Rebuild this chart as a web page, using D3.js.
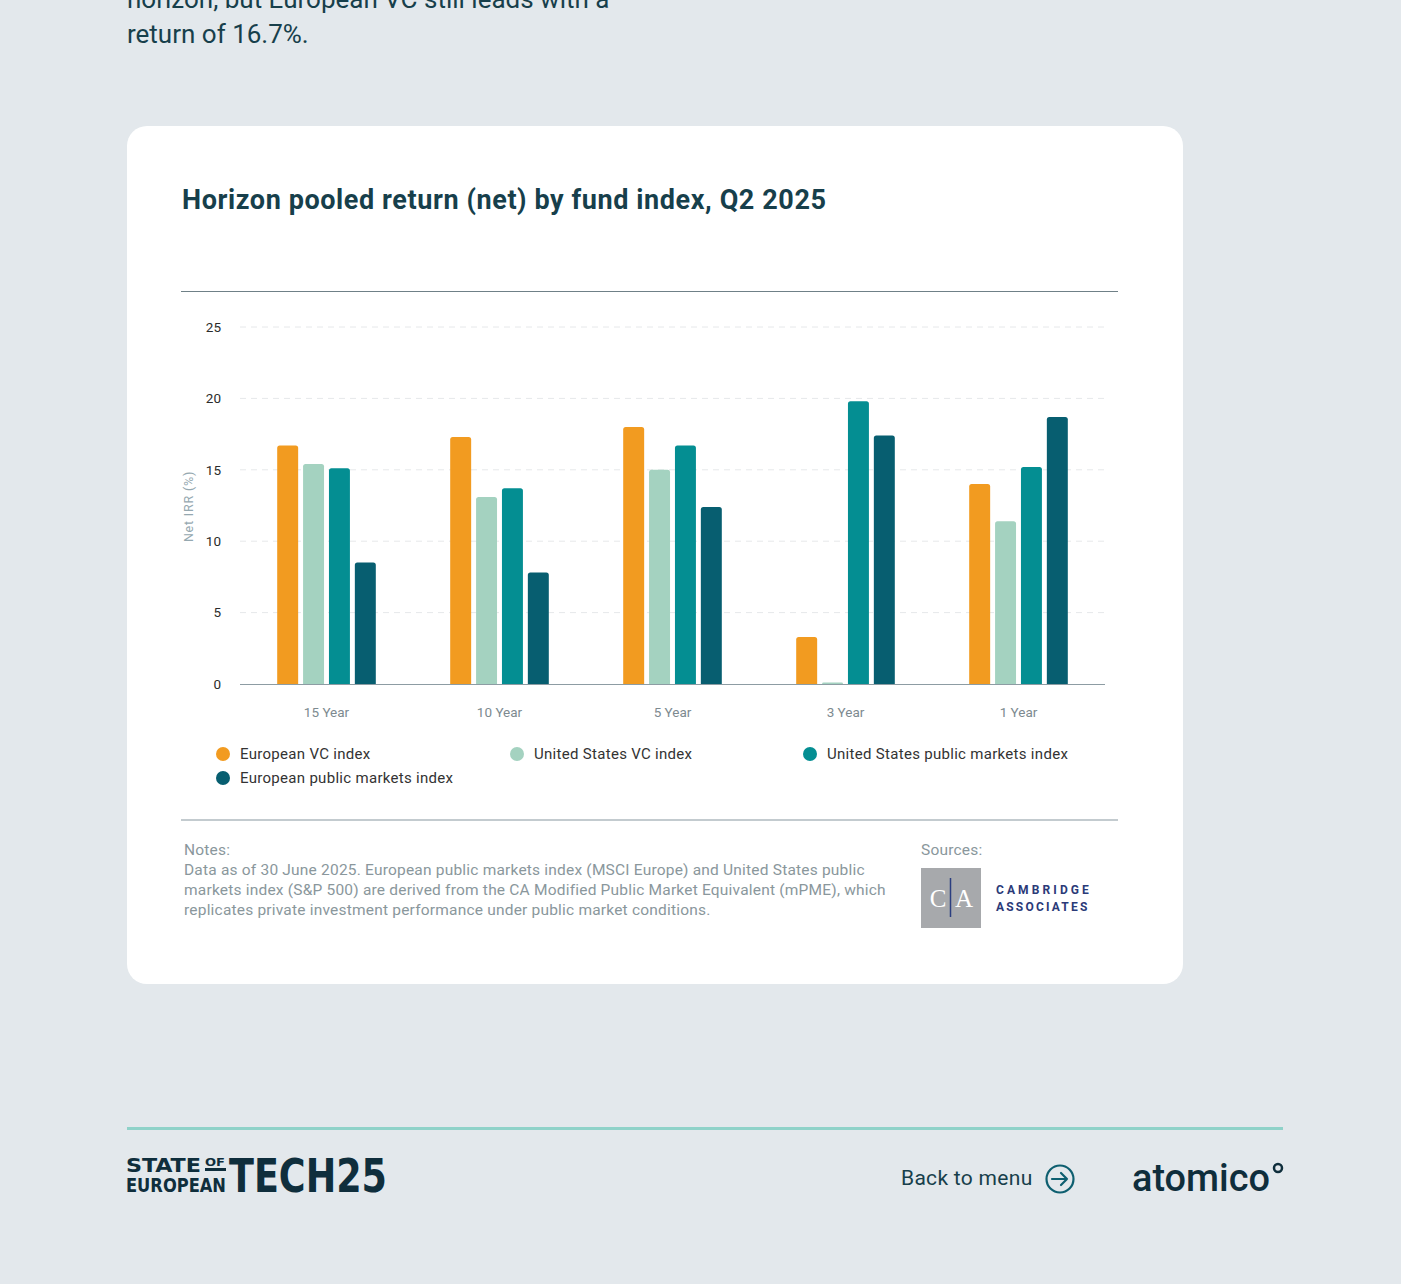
<!DOCTYPE html>
<html>
<head>
<meta charset="utf-8">
<script src="https://cdn.jsdelivr.net/npm/d3@7"></script>
<style>
  html, body { margin: 0; padding: 0; background: #e3e8ec; }
  svg { display: block; font-family: Roboto, "Noto Sans", sans-serif; }
</style>
</head>
<body>
<svg id="page" width="1401" height="1284"></svg>
<script>
// horizons on the x axis
const horizons = ['15 Year', '10 Year', '5 Year', '3 Year', '1 Year'];
// series names and colours
const seriesNames = ['European VC index', 'United States VC index', 'United States public markets index', 'European public markets index'];
const seriesColors = ['#f29b20', '#a4d2c0', '#048e92', '#075e70'];
// net IRR (%) per series, in horizon order
const europeanVC = [16.7, 17.3, 18.0, 3.3, 14.0];
const usVC = [15.4, 13.1, 15.0, 0.1, 11.4];
const usPublic = [15.1, 13.7, 16.7, 19.8, 15.2];
const europeanPublic = [8.5, 7.8, 12.4, 17.4, 18.7];
const yTicks = [0, 5, 10, 15, 20, 25];

const noteLines = [
  'Data as of 30 June 2025. European public markets index (MSCI Europe) and United States public',
  'markets index (S&P 500) are derived from the CA Modified Public Market Equivalent (mPME), which',
  'replicates private investment performance under public market conditions.'
];

const ink = '#173f4b';
const svg = d3.select('#page');

// intro text, cut by the top of the page
svg.append('text').attr('x', 127).attr('y', 8)
  .attr('font-size', 26).attr('fill', ink)
  .text('horizon, but European VC still leads with a');
svg.append('text').attr('x', 127).attr('y', 43)
  .attr('font-size', 26).attr('fill', ink)
  .text('return of 16.7%.');

// white card
svg.append('rect').attr('x', 127).attr('y', 126).attr('width', 1056).attr('height', 858)
  .attr('rx', 20).attr('fill', '#fff');

svg.append('text').attr('x', 182).attr('y', 209)
  .attr('font-size', 27).attr('font-weight', 700).attr('fill', ink)
  .attr('textLength', 644).attr('lengthAdjust', 'spacing')
  .text('Horizon pooled return (net) by fund index, Q2 2025');

svg.append('line').attr('x1', 181).attr('x2', 1118).attr('y1', 291.5).attr('y2', 291.5)
  .attr('stroke', '#6f8087').attr('stroke-width', 1);

// chart
const x0 = d3.scaleBand().domain(horizons).range([240, 1105]).paddingInner(0.43).paddingOuter(0.215);
const x1 = d3.scaleBand().domain(d3.range(seriesNames.length)).range([0, x0.bandwidth()]).paddingInner(0.19);
const y = d3.scaleLinear().domain([0, 25]).range([684, 327]);

const grid = svg.append('g');
grid.selectAll('line').data(yTicks.filter(d => d > 0)).join('line')
  .attr('x1', 240).attr('x2', 1105)
  .attr('y1', d => y(d)).attr('y2', d => y(d))
  .attr('stroke', '#e6e8ea').attr('stroke-dasharray', '6,5');

const yAxis = svg.append('g').attr('transform', 'translate(240,0)')
  .call(d3.axisLeft(y).tickValues(yTicks).tickSize(0).tickPadding(19));
yAxis.select('.domain').remove();
yAxis.selectAll('text').attr('font-size', 13.5).attr('fill', '#2b2b2b').attr('font-family', 'Roboto');

svg.append('text')
  .attr('transform', `translate(193,${y(12.5) + 1}) rotate(-90)`)
  .attr('text-anchor', 'middle').attr('font-size', 12.5).attr('letter-spacing', 0.8)
  .attr('fill', '#95a8b0')
  .text('Net IRR (%)');

const series = [europeanVC, usVC, usPublic, europeanPublic];
const rows = horizons.map((h, i) => ({ h, vals: series.map((s, k) => ({ k, v: s[i] })) }));

function topRounded(x, yTop, w, yBase, r) {
  const rr = Math.min(r, (yBase - yTop), w / 2);
  return `M${x},${yBase}V${yTop + rr}Q${x},${yTop} ${x + rr},${yTop}H${x + w - rr}Q${x + w},${yTop} ${x + w},${yTop + rr}V${yBase}Z`;
}

const groups = svg.append('g').selectAll('g').data(rows).join('g')
  .attr('transform', d => `translate(${x0(d.h)},0)`);
groups.selectAll('path').data(d => d.vals).join('path')
  .attr('d', d => topRounded(x1(d.k), y(d.v), x1.bandwidth(), y(0), 2.5))
  .attr('fill', d => seriesColors[d.k]);

svg.append('line').attr('x1', 240).attr('x2', 1105).attr('y1', y(0) + 0.5).attr('y2', y(0) + 0.5)
  .attr('stroke', '#8d9ca3').attr('stroke-width', 1.2);

const xAxis = svg.append('g').attr('transform', `translate(0,${y(0)})`)
  .call(d3.axisBottom(x0).tickSize(0).tickPadding(23));
xAxis.select('.domain').remove();
xAxis.selectAll('text').attr('font-size', 13.5).attr('fill', '#7d8a90').attr('font-family', 'Roboto');

// legend
const legendPos = [[223, 754], [517, 754], [810, 754], [223, 778]];
const legend = svg.append('g').selectAll('g').data(seriesNames).join('g')
  .attr('transform', (d, i) => `translate(${legendPos[i][0]},${legendPos[i][1]})`);
legend.append('circle').attr('r', 7).attr('fill', (d, i) => seriesColors[i]);
legend.append('text').attr('x', 17).attr('dy', '0.35em')
  .attr('font-size', 15).attr('letter-spacing', 0.3).attr('fill', '#333').text(d => d);

svg.append('line').attr('x1', 181).attr('x2', 1118).attr('y1', 820).attr('y2', 820)
  .attr('stroke', '#c3cbcf').attr('stroke-width', 2);

// notes
svg.append('text').attr('x', 184).attr('y', 855).attr('font-size', 15.5).attr('letter-spacing', 0.2)
  .attr('fill', '#8a979c').text('Notes:');
svg.append('g').selectAll('text').data(noteLines).join('text')
  .attr('x', 184).attr('y', (d, i) => 875 + i * 20)
  .attr('font-size', 15.5).attr('letter-spacing', 0.2).attr('fill', '#8a979c').text(d => d);

// sources + Cambridge Associates mark
svg.append('text').attr('x', 921).attr('y', 855).attr('font-size', 15.5).attr('letter-spacing', 0.2)
  .attr('fill', '#8a979c').text('Sources:');
svg.append('rect').attr('x', 921).attr('y', 868).attr('width', 60).attr('height', 60).attr('fill', '#a7a9ac');
svg.append('line').attr('x1', 950.5).attr('x2', 950.5).attr('y1', 878).attr('y2', 917)
  .attr('stroke', '#2b3e80').attr('stroke-width', 1.5);
svg.append('text').attr('x', 938).attr('y', 907).attr('text-anchor', 'middle')
  .attr('font-family', '"Liberation Serif", serif').attr('font-size', 25).attr('fill', '#fff').text('C');
svg.append('text').attr('x', 964).attr('y', 907).attr('text-anchor', 'middle')
  .attr('font-family', '"Liberation Serif", serif').attr('font-size', 25).attr('fill', '#fff').text('A');
svg.append('text').attr('x', 996).attr('y', 894).attr('font-size', 12).attr('font-weight', 700)
  .attr('letter-spacing', 3.1).attr('fill', '#2b3a78').text('CAMBRIDGE');
svg.append('text').attr('x', 996).attr('y', 911).attr('font-size', 12).attr('font-weight', 700)
  .attr('letter-spacing', 2.2).attr('fill', '#2b3a78').text('ASSOCIATES');

// footer
svg.append('line').attr('x1', 127).attr('x2', 1283).attr('y1', 1128.5).attr('y2', 1128.5)
  .attr('stroke', '#8fd2c9').attr('stroke-width', 3);

const logoInk = '#0f2e3c';
const logo = svg.append('g').attr('fill', logoInk).attr('font-weight', 900)
  .attr('font-family', '"DejaVu Sans Condensed", Roboto');
logo.append('text').attr('x', 126).attr('y', 1172).attr('font-size', 19)
  .attr('textLength', 75).attr('lengthAdjust', 'spacingAndGlyphs').text('STATE');
logo.append('text').attr('x', 126).attr('y', 1192).attr('font-size', 19)
  .attr('textLength', 100).attr('lengthAdjust', 'spacingAndGlyphs').text('EUROPEAN');
logo.append('text').attr('x', 205).attr('y', 1166).attr('font-size', 10)
  .attr('textLength', 20).attr('lengthAdjust', 'spacingAndGlyphs').text('OF');
logo.append('rect').attr('x', 205).attr('y', 1168).attr('width', 21).attr('height', 3);
// TECH25 as one word, so the two parts never collide
logo.append('text').attr('x', 229).attr('y', 1192).attr('font-size', 46)
  .attr('textLength', 158).attr('lengthAdjust', 'spacingAndGlyphs').text('TECH25');

svg.append('text').attr('x', 901).attr('y', 1185).attr('font-size', 21).attr('letter-spacing', 0.3)
  .attr('fill', ink).text('Back to menu');
svg.append('circle').attr('cx', 1060).attr('cy', 1179).attr('r', 13.5)
  .attr('fill', 'none').attr('stroke', '#0e5f70').attr('stroke-width', 2.2);
svg.append('path').attr('d', 'M1052,1179H1067M1061,1173L1067,1179L1061,1185')
  .attr('fill', 'none').attr('stroke', '#0e5f70').attr('stroke-width', 2.2)
  .attr('stroke-linecap', 'round').attr('stroke-linejoin', 'round');

svg.append('text').attr('x', 1132).attr('y', 1191).attr('font-size', 38).attr('font-weight', 500)
  .attr('fill', logoInk).attr('textLength', 138).attr('lengthAdjust', 'spacingAndGlyphs').text('atomico');
svg.append('circle').attr('cx', 1278).attr('cy', 1168).attr('r', 4)
  .attr('fill', 'none').attr('stroke', logoInk).attr('stroke-width', 2.5);
</script>
</body>
</html>
